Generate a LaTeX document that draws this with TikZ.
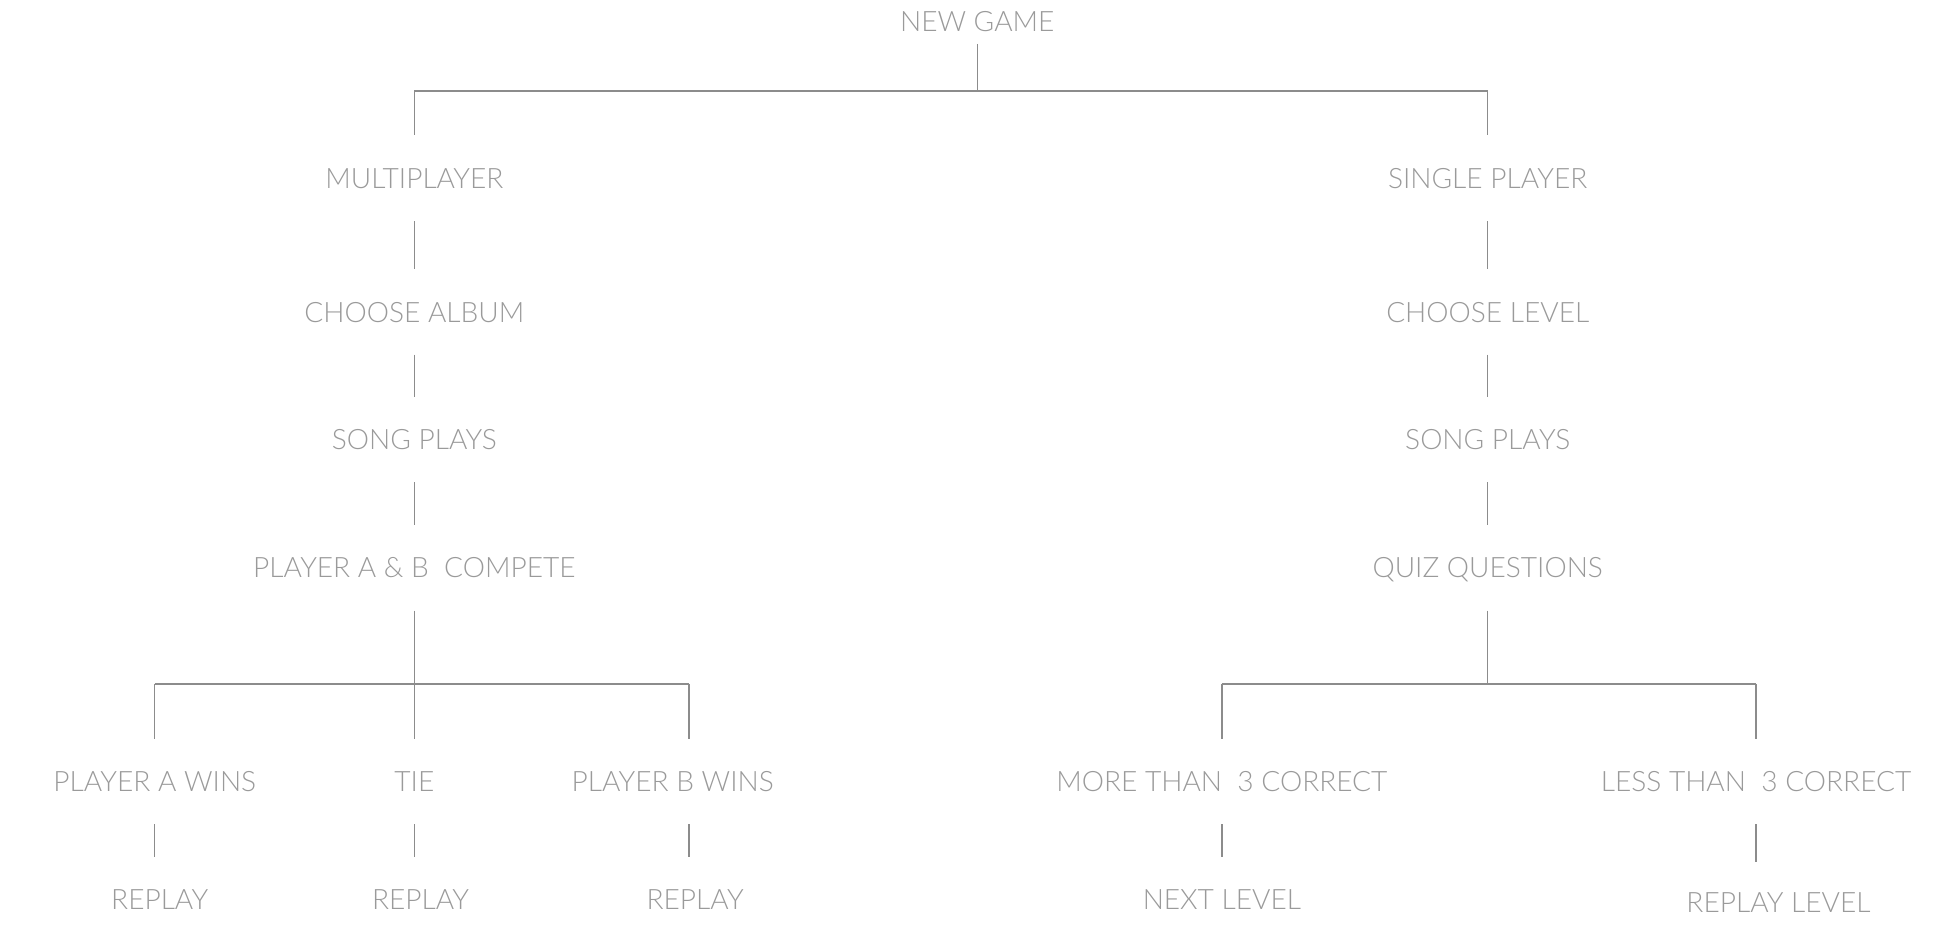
\documentclass[tikz,border=0pt]{standalone}
\usepackage{fontspec}
\setmainfont{Lato Light}
\definecolor{txt}{HTML}{9A9A9A}
\definecolor{ln}{HTML}{8C8C8C}
\begin{document}
\begin{tikzpicture}[x=1pt,y=-1pt,
  lbl/.style={font=\fontsize{22.5}{22.5}\selectfont, text=txt, inner xsep=0pt, inner ysep=0pt, text height=16pt, text depth=0pt, anchor=center},
  conn/.style={draw=ln, line width=1.1pt, shorten <=26pt, shorten >=26pt},
  half/.style={draw=ln, line width=1.1pt},
]
\useasboundingbox (0,0) rectangle (1568,758);
% nodes
\node[lbl] (ng) at (783,17) {NEW GAME};
\node[lbl] (mp) at (332,143) {MULTIPLAYER};
\node[lbl] (sp) at (1192,143) {SINGLE PLAYER};
\node[lbl] (ca) at (332,250) {CHOOSE ALBUM};
\node[lbl] (cl) at (1192,250) {CHOOSE LEVEL};
\node[lbl] (s1) at (332,352) {SONG PLAYS};
\node[lbl] (s2) at (1192,352) {SONG PLAYS};
\node[lbl] (pc) at (332,455) {PLAYER A \& B\ \ COMPETE};
\node[lbl] (qq) at (1192,455) {QUIZ QUESTIONS};
\node[lbl] (pa) at (124,626) {PLAYER A WINS};
\node[lbl] (ti) at (332,626) {TIE};
\node[lbl] (pb) at (539,626) {PLAYER B WINS};
\node[lbl] (mt) at (979,626) {MORE THAN\ \ 3 CORRECT};
\node[lbl] (lt) at (1407,626) {LESS THAN\ \ 3 CORRECT};
\node[lbl] (r1) at (128,721) {REPLAY};
\node[lbl] (r2) at (337,721) {REPLAY};
\node[lbl] (r3) at (557,721) {REPLAY};
\node[lbl] (nl) at (979,721) {NEXT LEVEL};
\node[lbl] (rl) at (1425,723) {REPLAY LEVEL};
% junctions
\coordinate (j0) at (783,73);
\coordinate (jl) at (332,548);
\coordinate (jr) at (1192,548);
\coordinate (jb) at (552,548);
% top branch
\draw[half, shorten <=10pt] (ng.south) -- (j0);
\draw[half, shorten >=27pt] (mp.north) ++(0,-62) -- (mp.north);
\draw[half, shorten >=27pt] (sp.north) ++(0,-62) -- (sp.north);
\draw[half] (mp.north |- j0) -- (sp.north |- j0);
% chains
\draw[conn] (mp.south) -- (ca.north);
\draw[conn] (ca.south) -- (s1.north);
\draw[conn] (s1.south) -- (pc.north);
\draw[conn] (sp.south) -- (cl.north);
\draw[conn] (cl.south) -- (s2.north);
\draw[conn] (s2.south) -- (qq.north);
% lower left branch
\draw[conn] (pc.south) -- (ti.north);
\draw[half] (pa.north |- jl) -- (jb);
\draw[half, shorten >=26pt] (pa.north |- jl) -- (pa.north);
\draw[half, shorten >=26pt] (jb) -- (jb |- pb.north);
% lower right branch
\draw[half, shorten <=26pt] (qq.south) -- (jr);
\draw[half] (mt.north |- jr) -- (lt.north |- jr);
\draw[half, shorten >=26pt] (mt.north |- jr) -- (mt.north);
\draw[half, shorten >=26pt] (lt.north |- jr) -- (lt.north);
% leaves
\draw[conn] (pa.south) -- (pa.south |- r1.north);
\draw[conn] (ti.south) -- (ti.south |- r2.north);
\draw[conn] (jb |- pb.south) -- (jb |- r3.north);
\draw[conn] (mt.south) -- (nl.north);
\draw[half, shorten <=26pt, shorten >=24pt] (lt.south) -- (lt.south |- rl.north);
\end{tikzpicture}
\end{document}
